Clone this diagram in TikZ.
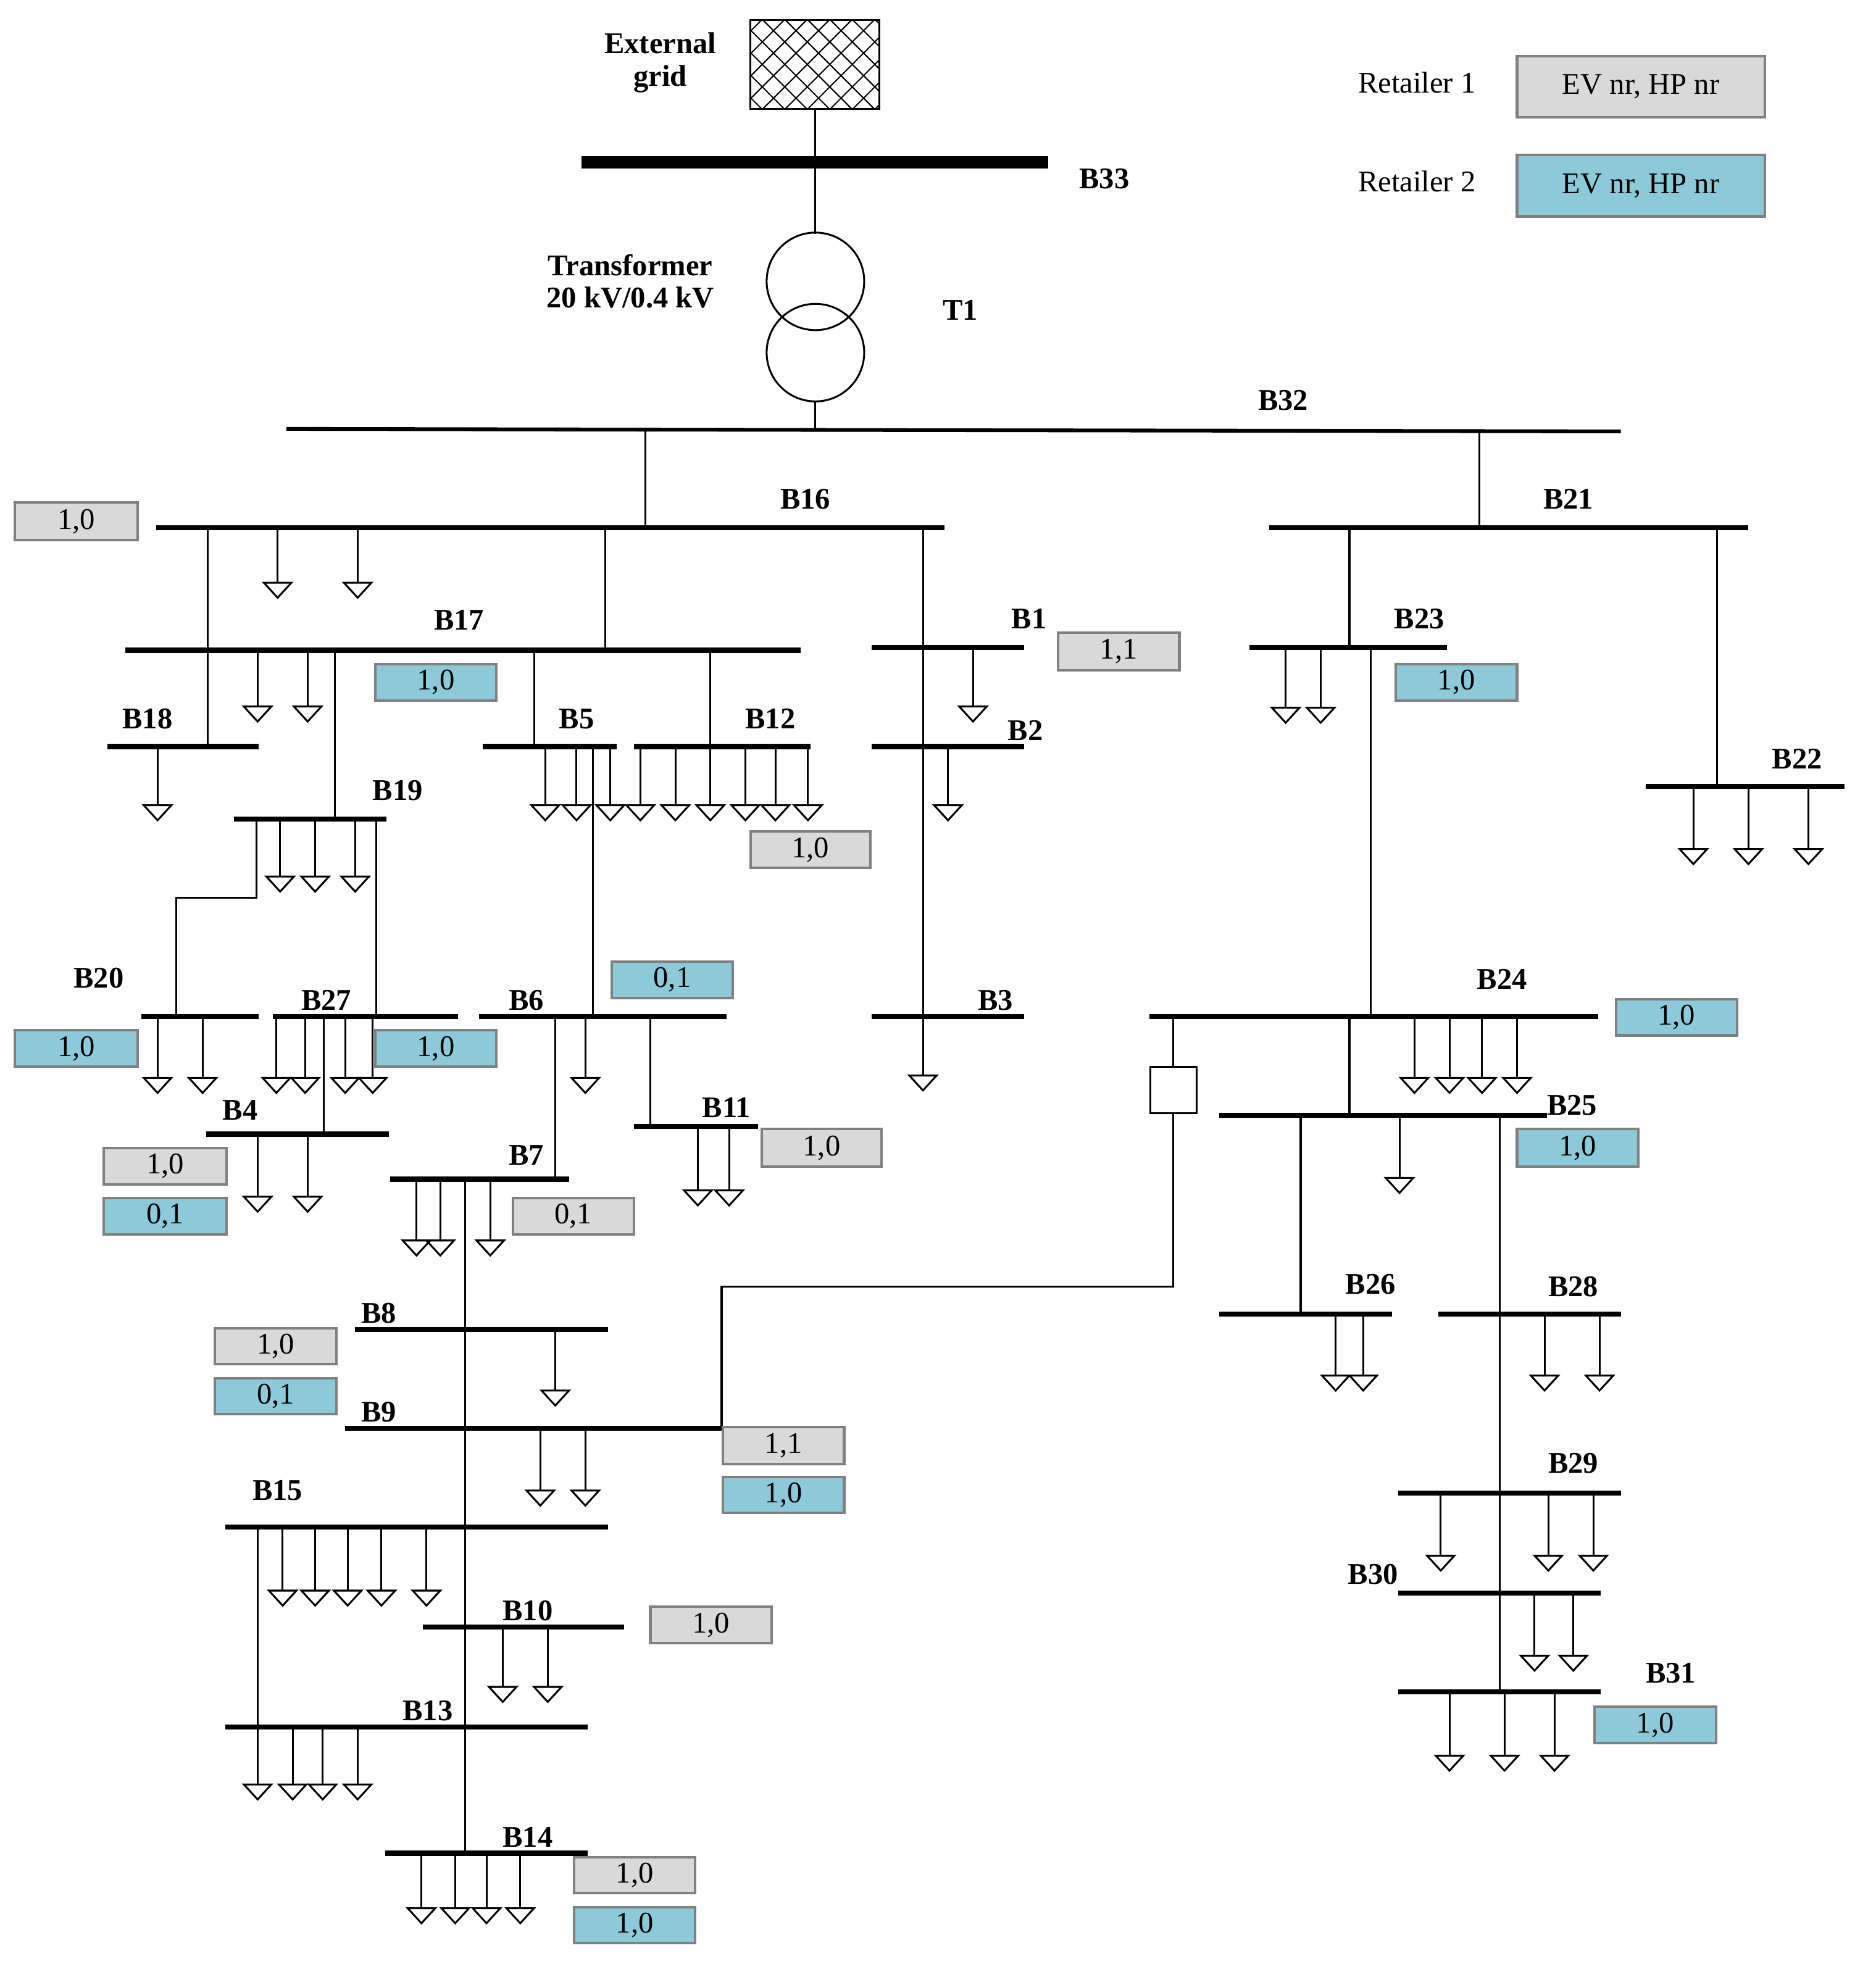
\documentclass[tikz,border=0pt]{standalone}
\usepackage{fontspec}
\setmainfont{Liberation Serif}
\begin{document}
\begin{tikzpicture}[x=1pt,y=-1pt,line width=1.5pt,
 lbl/.style={font=\fontsize{24}{26}\selectfont\bfseries},
 txt/.style={font=\fontsize{24}{26}\selectfont}]
\definecolor{gfill}{RGB}{217,217,217}
\definecolor{bfill}{RGB}{140,202,218}
\definecolor{bord}{RGB}{128,128,128}
\newcommand\ld[3]{\draw (#1,#2)--(#1,{#3-12}); \draw ({#1-11},{#3-12})--({#1+11},{#3-12})--(#1,#3)--cycle;}
\newcommand\bus[3]{\draw[line width=4pt] (#1,#3)--(#2,#3);}
\newcommand\bx[6]{\draw[fill=#5,draw=bord,line width=2pt] (#1,#2) rectangle (#3,#4); \node[txt] at ({(#1+#3)/2},{(#2+#4)/2}) {#6};}
\useasboundingbox (0,0) rectangle (1500,1581);
% external grid
\begin{scope}
\clip (600,16) rectangle (703,87);
\foreach \i in {-80,-62,...,120}{\draw[line width=1pt] (600+\i,16)--(671+\i,87); \draw[line width=1pt] (671+\i,16)--(600+\i,87);}
\end{scope}
\draw (600,16) rectangle (703,87);
\node[lbl,align=center] at (528,50) {External\\grid};
\draw (652,87)--(652,130);
\draw[line width=10pt] (465,130)--(838,130);
\node[lbl] at (883,143) {B33};
\draw (652,130)--(652,187);
\draw (652,225) circle (39); \draw (652,282) circle (39);
\node[lbl,align=center] at (504,225) {Transformer\\20 kV/0.4 kV};
\node[lbl] at (768,248) {T1};
\draw (652,321)--(652,344);
\draw[line width=3pt] (229,343)--(1296,345);
\node[lbl] at (1026,320) {B32};
% B16
\draw (516,344)--(516,422); \bus{125}{755}{422} \node[lbl] at (644,399) {B16};
\bx{12}{402}{110}{432}{gfill}{1,0}
\ld{222}{422}{478} \ld{286}{422}{478}
\draw (484,422)--(484,520); \draw (166,422)--(166,597); \draw (738,422)--(738,813); \ld{738}{813}{872}
% B17
\bus{100}{640}{520} \node[lbl] at (367,496) {B17};
\ld{206}{520}{577} \ld{246}{520}{577}
\draw (268,520)--(268,655); \draw (427,520)--(427,597); \draw (568,520)--(568,597);
\bx{300}{531}{397}{560}{bfill}{1,0}
\bus{86}{207}{597} \node[lbl] at (118,575) {B18}; \ld{126}{597}{656}
\bus{386}{493}{597} \node[lbl] at (461,575) {B5};
\bus{507}{648}{597} \node[lbl] at (616,575) {B12};
\foreach \x in {436,461,488,512,540,568,596,620,646}{\ld{\x}{597}{656}}
\draw (474,597)--(474,813);
\bx{600}{665}{696}{694}{gfill}{1,0}
% B1 B2 B3
\bus{697}{819}{518} \node[lbl] at (823,495) {B1}; \ld{778}{518}{577}
\bx{846}{506}{943}{536}{gfill}{1,1}
\bus{697}{819}{597} \node[lbl] at (820,584) {B2}; \ld{758}{597}{656}
\bus{697}{819}{813} \node[lbl] at (796,800) {B3};
% B19
\bus{187}{309}{655} \node[lbl] at (318,632) {B19};
\foreach \x in {224,252,284}{\ld{\x}{655}{713}}
\draw (205,655)--(205,718)--(141,718)--(141,813); \draw (301,655)--(301,813);
\bus{113}{207}{813} \node[lbl] at (79,782) {B20}; \ld{126}{813}{874} \ld{162}{813}{874}
\bx{12}{824}{110}{853}{bfill}{1,0}
\bus{218}{366}{813} \node[lbl] at (261,800) {B27};
\foreach \x in {221,244,276,298}{\ld{\x}{813}{874}}
\draw (259,813)--(259,907);
\bx{300}{824}{397}{853}{bfill}{1,0}
\bus{165}{311}{907} \node[lbl] at (192,888) {B4}; \ld{206}{907}{969} \ld{246}{907}{969}
\bx{83}{918}{181}{947}{gfill}{1,0}
\bx{83}{958}{181}{987}{bfill}{0,1}
% B6
\bus{383}{581}{813} \node[lbl] at (421,800) {B6};
\bx{489}{769}{586}{798}{bfill}{0,1}
\ld{468}{813}{874} \draw (520,813)--(520,901); \draw (444,813)--(444,943);
\bus{507}{606}{901} \node[lbl] at (581,886) {B11}; \ld{558}{901}{964} \ld{583}{901}{964}
\bx{609}{903}{705}{933}{gfill}{1,0}
\bus{312}{455}{943} \node[lbl] at (421,924) {B7};
\foreach \x in {333,352,392}{\ld{\x}{943}{1004}}
\draw (372,943)--(372,1480);
\bx{410}{958}{507}{987}{gfill}{0,1}
\bus{284}{486}{1063} \node[lbl] at (303,1050) {B8}; \ld{444}{1063}{1124}
\bx{172}{1062}{269}{1091}{gfill}{1,0}
\bx{172}{1102}{269}{1131}{bfill}{0,1}
\bus{276}{577}{1142} \node[lbl] at (303,1129) {B9}; \ld{432}{1142}{1204} \ld{468}{1142}{1204}
\draw (577,1142)--(577,1029)--(938,1029)--(938,890);
\draw (920,853) rectangle (957,890); \draw (938,813)--(938,853);
\bx{578}{1141}{675}{1171}{gfill}{1,1}
\bx{578}{1181}{675}{1210}{bfill}{1,0}
\bus{180}{486}{1221} \node[lbl] at (222,1192) {B15};
\foreach \x in {226,252,278,305,341}{\ld{\x}{1221}{1284}}
\draw (206,1221)--(206,1381);
\bus{338}{499}{1301} \node[lbl] at (422,1288) {B10}; \ld{402}{1301}{1361} \ld{438}{1301}{1361}
\bx{520}{1285}{617}{1314}{gfill}{1,0}
\bus{180}{470}{1381} \node[lbl] at (342,1368) {B13};
\foreach \x in {206,234,258,286}{\ld{\x}{1381}{1439}}
\bus{308}{470}{1482} \node[lbl] at (422,1469) {B14};
\foreach \x in {337,364,389,416}{\ld{\x}{1482}{1538}}
\bx{459}{1485}{556}{1514}{gfill}{1,0}
\bx{459}{1525}{556}{1554}{bfill}{1,0}
% right side
\draw (1183,345)--(1183,422); \bus{1015}{1398}{422} \node[lbl] at (1254,399) {B21};
\draw (1079,422)--(1079,518); \bus{999}{1157}{518} \node[lbl] at (1135,495) {B23};
\ld{1028}{518}{578} \ld{1056}{518}{578} \draw (1096,518)--(1096,813);
\bx{1116}{531}{1213}{560}{bfill}{1,0}
\draw (1373,422)--(1373,629); \bus{1316}{1475}{629} \node[lbl] at (1437,607) {B22};
\foreach \x in {1354,1398,1446}{\ld{\x}{629}{691}}
\bus{919}{1278}{813} \node[lbl] at (1201,783) {B24};
\bx{1292}{799}{1389}{828}{bfill}{1,0}
\foreach \x in {1131,1159,1185,1213}{\ld{\x}{813}{874}}
\draw (1079,813)--(1079,892);
\bus{975}{1237}{892} \node[lbl] at (1257,884) {B25};
\bx{1213}{903}{1310}{933}{bfill}{1,0}
\ld{1119}{892}{954} \draw (1040,892)--(1040,1051); \draw (1199,892)--(1199,1353);
\bus{975}{1113}{1051} \node[lbl] at (1096,1027) {B26}; \ld{1068}{1051}{1112} \ld{1090}{1051}{1112}
\bus{1150}{1296}{1051} \node[lbl] at (1258,1029) {B28}; \ld{1235}{1051}{1112} \ld{1279}{1051}{1112}
\bus{1118}{1296}{1194} \node[lbl] at (1258,1170) {B29};
\foreach \x in {1152,1238,1274}{\ld{\x}{1194}{1256}}
\bus{1118}{1280}{1274} \node[lbl] at (1098,1259) {B30}; \ld{1227}{1274}{1336} \ld{1258}{1274}{1336}
\bus{1118}{1280}{1353} \node[lbl] at (1336,1338) {B31};
\foreach \x in {1159,1203,1243}{\ld{\x}{1353}{1416}}
\bx{1275}{1365}{1372}{1394}{bfill}{1,0}
% legend
\node[txt] at (1133,66) {Retailer 1}; \node[txt] at (1133,145) {Retailer 2};
\bx{1213}{45}{1411}{94}{gfill}{EV nr, HP nr}
\bx{1213}{124}{1411}{173}{bfill}{EV nr, HP nr}
\end{tikzpicture}
\end{document}
